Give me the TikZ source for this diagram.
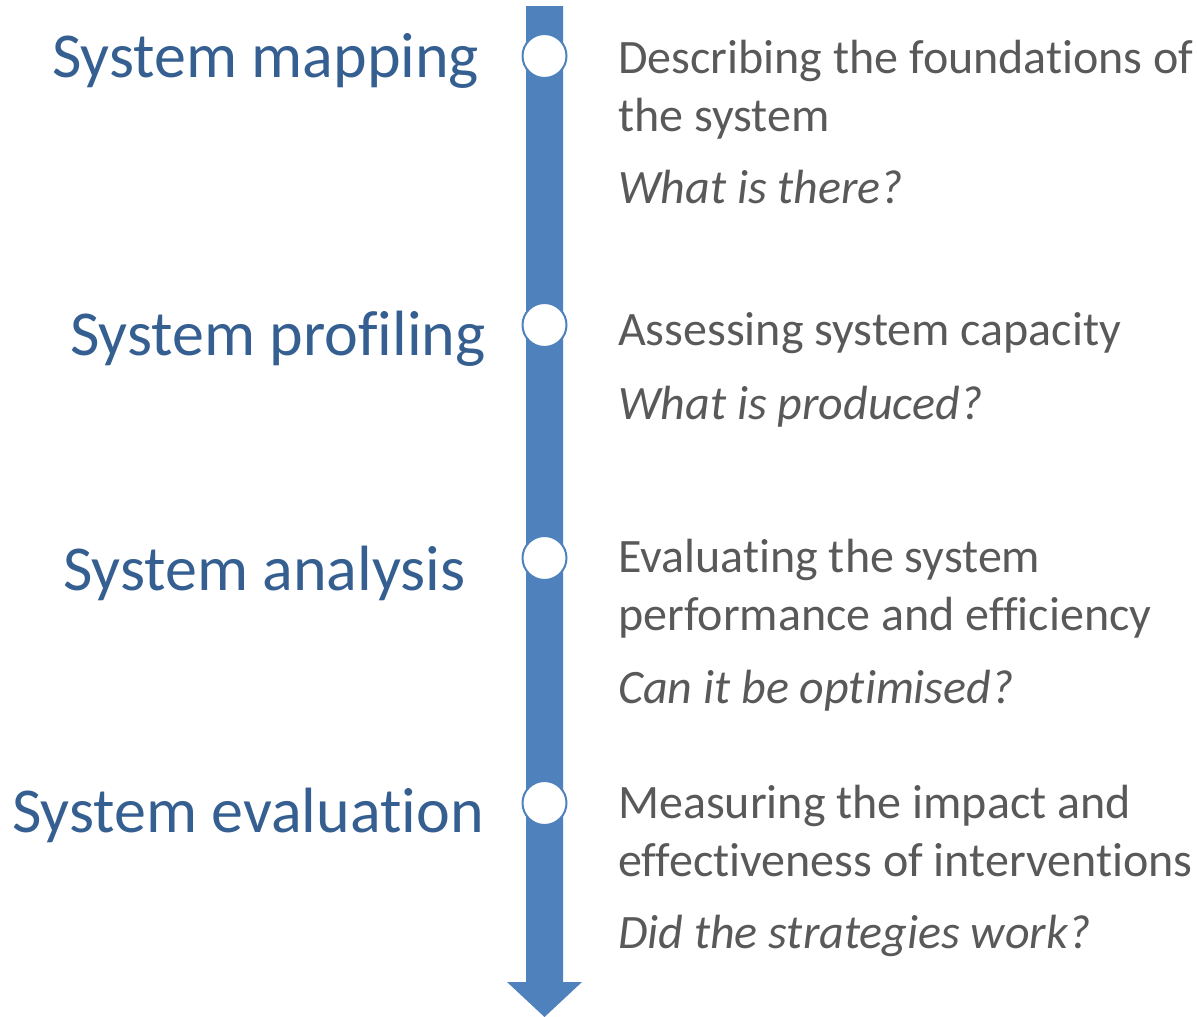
\documentclass[tikz,border=0pt]{standalone}
\usepackage{fontspec}
\setmainfont{Carlito}[Ligatures=NoCommon]
\definecolor{arrowblue}{RGB}{79,129,189}
\definecolor{stageblue}{RGB}{54,95,145}
\definecolor{notegray}{RGB}{89,89,89}
\begin{document}
\begin{tikzpicture}[x=1pt,y=-1pt,
  stage/.style={anchor=base west,inner sep=0pt,text=stageblue,font=\fontsize{64}{70}\selectfont},
  note/.style={anchor=base west,inner sep=0pt,text=notegray,align=left,font=\fontsize{48}{58}\selectfont},
  question/.style={note,font=\fontsize{48}{58}\selectfont\itshape},
  milestone/.style={circle,draw=arrowblue,line width=2pt,fill=white,minimum size=44pt,inner sep=0pt}]
\useasboundingbox (0,0) rectangle (1197,1017);
% timeline arrow
\fill[arrowblue] (526,6) -- (563,6) -- (563,982) -- (582,982) -- (544.5,1017) -- (507,982) -- (526,982) -- cycle;
% milestones
\node[milestone] (m1) at (544.5,56) {};
\node[milestone] (m2) at (544.5,325) {};
\node[milestone] (m3) at (544.5,558) {};
\node[milestone] (m4) at (544.5,803) {};
% stage names
\node[stage] (s1) at (52,77) {System mapping};
\node[stage] (s2) at (70,355) {System profiling};
\node[stage] (s3) at (63,590) {System analysis};
\node[stage] (s4) at (12,832) {System evaluation};
% descriptions (anchored on the baseline of their last line)
\node[note] (d1) at (618,131) {Describing the foundations of\\the system};
\node[question] (q1) at (618,203) {What is there?};
\node[note] (d2) at (618,345) {Assessing system capacity};
\node[question] (q2) at (618,419) {What is produced?};
\node[note] (d3) at (618,630) {Evaluating the system\\performance and efficiency};
\node[question] (q3) at (618,703) {Can it be optimised?};
\node[note] (d4) at (618,876) {Measuring the impact and\\effectiveness of interventions};
\node[question] (q4) at (618,948) {Did the strategies work?};
\end{tikzpicture}
\end{document}
